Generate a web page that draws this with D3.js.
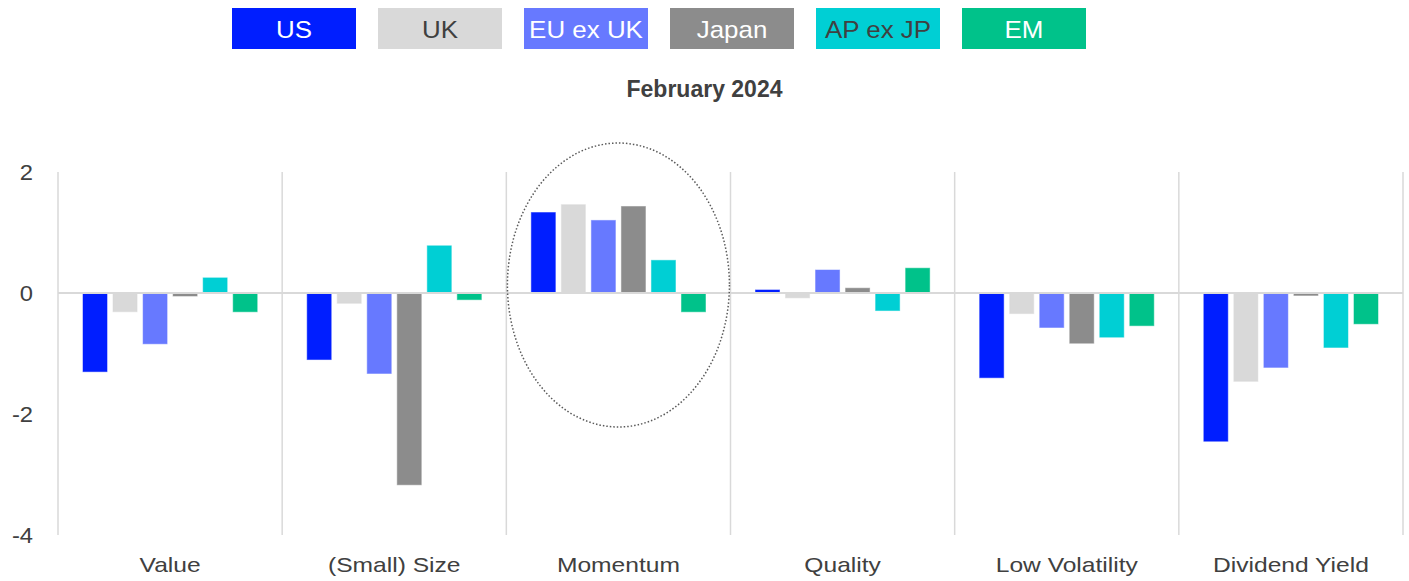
<!DOCTYPE html>
<html>
<head>
<meta charset="utf-8">
<script src="https://cdn.jsdelivr.net/npm/d3@7"></script>
<style>
  body { margin: 0; background: #fff; }
  svg text { font-family: "Liberation Sans", Arial, sans-serif; }
</style>
</head>
<body>
<div id="chart"></div>
<script>
// factor returns by region
var factors = ["Value", "(Small) Size", "Momentum", "Quality", "Low Volatility", "Dividend Yield"];
var regions = ["US", "UK", "EU ex UK", "Japan", "AP ex JP", "EM"];
var colors = ["#001eff", "#d9d9d9", "#6779ff", "#8c8c8c", "#00cfd4", "#00c28a"];
var labelColors = ["#ffffff", "#404040", "#ffffff", "#ffffff", "#404040", "#ffffff"];

var us     = [-1.30, -1.10, 1.33, 0.05, -1.40, -2.45];
var uk     = [-0.31, -0.17, 1.46, -0.08, -0.34, -1.46];
var euexuk = [-0.84, -1.33, 1.20, 0.38, -0.57, -1.23];
var japan  = [-0.05, -3.17, 1.43, 0.08, -0.83, -0.04];
var apexjp = [0.25, 0.78, 0.54, -0.29, -0.73, -0.90];
var em     = [-0.31, -0.11, -0.31, 0.41, -0.54, -0.51];
var yTicks = [2, 0, -2, -4];

var series = [us, uk, euexuk, japan, apexjp, em];

var w = 1409, h = 581;
var margin = { top: 172, right: 6, bottom: 46, left: 58 };

var svg = d3.select("#chart").append("svg")
  .attr("width", w)
  .attr("height", h);

var x0 = d3.scaleBand()
  .domain(factors)
  .range([margin.left, w - margin.right]);

var x1 = d3.scaleBand()
  .domain(regions)
  .range([25, x0.bandwidth() - 25])
  .paddingInner(0.2)
  .paddingOuter(0);

var y = d3.scaleLinear()
  .domain([-4, 2])
  .range([h - margin.bottom, margin.top]);

// vertical separators
svg.append("g")
  .selectAll("line")
  .data(d3.range(factors.length + 1))
  .enter()
  .append("line")
  .attr("x1", function (i) { return margin.left + i * x0.step(); })
  .attr("x2", function (i) { return margin.left + i * x0.step(); })
  .attr("y1", y(2))
  .attr("y2", y(-4))
  .attr("stroke", "#d9d9d9")
  .attr("stroke-width", 1.5);

// y labels
svg.append("g")
  .selectAll("text")
  .data(yTicks)
  .enter()
  .append("text")
  .attr("transform", function (d) { return "translate(33," + y(d) + ") scale(1.08,1)"; })
  .attr("dy", "0.36em")
  .attr("text-anchor", "end")
  .attr("font-size", "22px")
  .attr("fill", "#404040")
  .text(function (d) { return d; });

// bars
var rows = [];
factors.forEach(function (f, i) {
  regions.forEach(function (r, j) {
    rows.push({ factor: f, region: r, value: series[j][i], color: colors[j] });
  });
});

svg.append("g")
  .selectAll("rect")
  .data(rows)
  .enter()
  .append("rect")
  .attr("x", function (d) { return x0(d.factor) + x1(d.region); })
  .attr("y", function (d) { return y(Math.max(0, d.value)); })
  .attr("width", x1.bandwidth())
  .attr("height", function (d) { return Math.abs(y(d.value) - y(0)); })
  .attr("fill", function (d) { return d.color; })
  .attr("stroke", function (d) { return d.color; })
  .attr("stroke-opacity", 0.5)
  .attr("stroke-width", 1);

// zero line
svg.append("line")
  .attr("x1", margin.left)
  .attr("x2", w - margin.right)
  .attr("y1", y(0))
  .attr("y2", y(0))
  .attr("stroke", "#d9d9d9")
  .attr("stroke-width", 2);

// category labels (the source text is a little stretched sideways)
svg.append("g")
  .selectAll("text")
  .data(factors)
  .enter()
  .append("text")
  .attr("transform", function (d) {
    return "translate(" + (x0(d) + x0.bandwidth() / 2) + ",572) scale(1.2,1)";
  })
  .attr("text-anchor", "middle")
  .attr("font-size", "20.5px")
  .attr("fill", "#404040")
  .text(function (d) { return d; });

// dotted ellipse round momentum
var mx = x0("Momentum") + x0.bandwidth() / 2;
svg.append("ellipse")
  .attr("cx", mx)
  .attr("cy", 285)
  .attr("rx", 111)
  .attr("ry", 142)
  .attr("fill", "none")
  .attr("stroke", "#595959")
  .attr("stroke-width", 1.5)
  .attr("stroke-dasharray", "1.5,2");

// title
svg.append("text")
  .attr("x", 704.5)
  .attr("y", 97)
  .attr("text-anchor", "middle")
  .attr("font-size", "23px")
  .attr("font-weight", "bold")
  .attr("fill", "#404040")
  .text("February 2024");

// legend
var legend = svg.append("g")
  .selectAll("g")
  .data(regions)
  .enter()
  .append("g")
  .attr("transform", function (d, i) { return "translate(" + (232 + i * 146) + ",8)"; });

legend.append("rect")
  .attr("width", 124)
  .attr("height", 41)
  .attr("fill", function (d, i) { return colors[i]; });

legend.append("text")
  .attr("transform", "translate(62,21) scale(1.08,1)")
  .attr("dy", "0.36em")
  .attr("text-anchor", "middle")
  .attr("font-size", "24px")
  .attr("fill", function (d, i) { return labelColors[i]; })
  .text(function (d) { return d; });
</script>
</body>
</html>
